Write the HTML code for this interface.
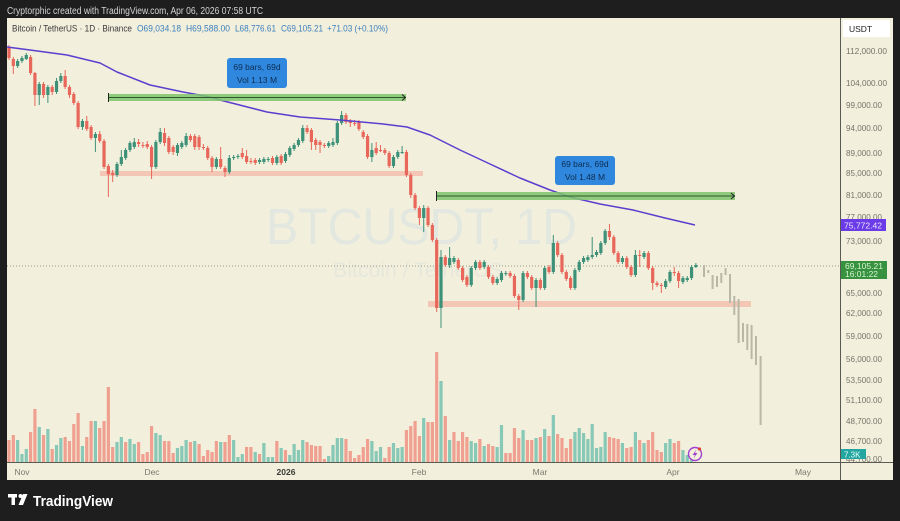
<!DOCTYPE html>
<html>
<head>
<meta charset="utf-8">
<style>
html,body{margin:0;padding:0;background:#1e1e1f;width:900px;height:521px;overflow:hidden}
svg{display:block}
text{font-family:"Liberation Sans",Arial,sans-serif}
</style>
</head>
<body>
<svg id="s" width="900" height="521" viewBox="0 0 900 521" xmlns="http://www.w3.org/2000/svg">
<rect width="900" height="521" fill="#1e1e1f"/>
<text x="7" y="14" font-size="10" fill="#d4d4d4" textLength="256" lengthAdjust="spacingAndGlyphs">Cryptorphic created with TradingView.com, Apr 06, 2026 07:58 UTC</text>
<rect x="7" y="18" width="886" height="462" fill="#f2efdc"/>

<!-- watermark -->
<text x="266" y="244" font-size="51" fill="#e2e7e0" textLength="311" lengthAdjust="spacingAndGlyphs">BTCUSDT, 1D</text>
<text x="333" y="277" font-size="21" fill="#e6e8dc" textLength="170" lengthAdjust="spacingAndGlyphs">Bitcoin / TetherUS</text>

<!-- support bands -->
<rect x="100" y="171" width="323" height="5" fill="#f3b8a8" opacity="0.75"/>
<rect x="428" y="301" width="323" height="6" fill="#f3b8a8" opacity="0.75"/>

<!-- current price dotted line -->
<line x1="7" y1="266" x2="840" y2="266" stroke="#9c9a88" stroke-width="1" stroke-dasharray="1,2"/>

<g id="vol"></g>
<g id="cand"></g>
<g id="proj"></g>

<!-- MA line -->
<polyline fill="none" stroke="#5a3fcf" stroke-width="1.5" stroke-linejoin="round"
 points="7,47 30,50 67,55 100,63 117,72 150,85 183,92 210,97 220,100 267,112 300,117 340,120 383,124 407,127 430,135 460,150 490,164 520,178 550,190 570,197 600,204 633,210 665,218 695,225"/>

<!-- range bars -->
<rect x="108" y="94" width="298" height="7" fill="#7fc46c" opacity="0.85"/>
<line x1="108" y1="97.5" x2="405" y2="97.5" stroke="#2c5a2c" stroke-width="1"/>
<line x1="108.5" y1="93" x2="108.5" y2="102" stroke="#222" stroke-width="1"/>
<polyline points="402,94.5 405.5,97.5 402,100.5" fill="none" stroke="#222" stroke-width="1"/>
<rect x="436" y="192" width="299" height="8" fill="#7fc46c" opacity="0.85"/>
<line x1="436" y1="196" x2="734" y2="196" stroke="#2c5a2c" stroke-width="1"/>
<line x1="436.5" y1="191" x2="436.5" y2="201" stroke="#222" stroke-width="1"/>
<polyline points="731,193 734.5,196 731,199" fill="none" stroke="#222" stroke-width="1"/>

<!-- label boxes -->
<rect x="227" y="58" width="60" height="30" rx="3" fill="#2f88de"/>
<text x="257" y="70" font-size="8.5" fill="#0d2c50" text-anchor="middle">69 bars, 69d</text>
<text x="257" y="83" font-size="8.5" fill="#0d2c50" text-anchor="middle">Vol 1.13 M</text>
<rect x="555" y="156" width="60" height="29" rx="3" fill="#2f88de"/>
<text x="585" y="167" font-size="8.5" fill="#0d2c50" text-anchor="middle">69 bars, 69d</text>
<text x="585" y="180" font-size="8.5" fill="#0d2c50" text-anchor="middle">Vol 1.48 M</text>

<!-- lightning icon -->
<circle cx="695" cy="454" r="6.5" fill="#f2efdc" stroke="#a23fd2" stroke-width="1.4"/>
<path d="M696.5,449.5 L692.5,455 L695,455 L693.5,458.5 L697.5,453 L695,453 Z" fill="#a23fd2"/>
<circle cx="699.5" cy="449" r="1.6" fill="#e0403a"/>

<!-- header -->
<text y="31.5" font-size="9.5">
<tspan x="12" fill="#3a3a3a" textLength="120" lengthAdjust="spacingAndGlyphs">Bitcoin / TetherUS · 1D · Binance</tspan>
</text>
<text y="31.5" font-size="9.5" fill="#3b7fbd">
<tspan x="137" textLength="44" lengthAdjust="spacingAndGlyphs">O69,034.18</tspan>
</text>
<text y="31.5" font-size="9.5" fill="#3b7fbd"><tspan x="186" textLength="44" lengthAdjust="spacingAndGlyphs">H69,588.00</tspan></text>
<text y="31.5" font-size="9.5" fill="#3b7fbd"><tspan x="235" textLength="41" lengthAdjust="spacingAndGlyphs">L68,776.61</tspan></text>
<text y="31.5" font-size="9.5" fill="#3b7fbd"><tspan x="281" textLength="42" lengthAdjust="spacingAndGlyphs">C69,105.21</tspan></text>
<text y="31.5" font-size="9.5" fill="#3b7fbd"><tspan x="327" textLength="61" lengthAdjust="spacingAndGlyphs">+71.03 (+0.10%)</tspan></text>

<!-- axes separators -->
<line x1="840.5" y1="18" x2="840.5" y2="480" stroke="#5a5a55" stroke-width="1"/>
<line x1="7" y1="462.5" x2="893" y2="462.5" stroke="#5a5a55" stroke-width="1"/>

<!-- price axis -->
<rect x="843" y="20" width="47" height="17" fill="#ffffff"/>
<text x="849" y="32" font-size="8.5" fill="#222">USDT</text>
<g font-size="8.3" fill="#75746a">
<text x="846" y="54" textLength="41" lengthAdjust="spacingAndGlyphs">112,000.00</text>
<text x="846" y="86" textLength="41" lengthAdjust="spacingAndGlyphs">104,000.00</text>
<text x="846" y="108" textLength="36" lengthAdjust="spacingAndGlyphs">99,000.00</text>
<text x="846" y="131" textLength="36" lengthAdjust="spacingAndGlyphs">94,000.00</text>
<text x="846" y="156" textLength="36" lengthAdjust="spacingAndGlyphs">89,000.00</text>
<text x="846" y="176" textLength="36" lengthAdjust="spacingAndGlyphs">85,000.00</text>
<text x="846" y="198" textLength="36" lengthAdjust="spacingAndGlyphs">81,000.00</text>
<text x="846" y="220" textLength="36" lengthAdjust="spacingAndGlyphs">77,000.00</text>
<text x="846" y="244" textLength="36" lengthAdjust="spacingAndGlyphs">73,000.00</text>
<text x="846" y="296" textLength="36" lengthAdjust="spacingAndGlyphs">65,000.00</text>
<text x="846" y="316" textLength="36" lengthAdjust="spacingAndGlyphs">62,000.00</text>
<text x="846" y="339" textLength="36" lengthAdjust="spacingAndGlyphs">59,000.00</text>
<text x="846" y="362" textLength="36" lengthAdjust="spacingAndGlyphs">56,000.00</text>
<text x="846" y="383" textLength="36" lengthAdjust="spacingAndGlyphs">53,500.00</text>
<text x="846" y="403" textLength="36" lengthAdjust="spacingAndGlyphs">51,100.00</text>
<text x="846" y="424" textLength="36" lengthAdjust="spacingAndGlyphs">48,700.00</text>
<text x="846" y="444" textLength="36" lengthAdjust="spacingAndGlyphs">46,700.00</text>
<text x="846" y="462" textLength="36" lengthAdjust="spacingAndGlyphs">44,700.00</text>
</g>
<rect x="841" y="219" width="45" height="12" fill="#6a3be6"/>
<text x="844" y="228.5" font-size="8.3" fill="#ece6ff" textLength="38" lengthAdjust="spacingAndGlyphs">75,772.42</text>
<rect x="841" y="261" width="46" height="18" fill="#37923f"/>
<text x="845" y="269" font-size="8" fill="#d8f3d0" textLength="38" lengthAdjust="spacingAndGlyphs">69,105.21</text>
<text x="845" y="277" font-size="8" fill="#d8f3d0" textLength="33" lengthAdjust="spacingAndGlyphs">16:01:22</text>
<rect x="841" y="449" width="25" height="10" fill="#23a5a0"/>
<text x="844" y="457.5" font-size="8" fill="#e8fffb">7.3K</text>

<!-- time axis -->
<g font-size="8.5" fill="#7a796e" text-anchor="middle">
<text x="22" y="475">Nov</text>
<text x="152" y="475">Dec</text>
<text x="286" y="475" font-weight="bold" fill="#3a3a35">2026</text>
<text x="419" y="475">Feb</text>
<text x="540" y="475">Mar</text>
<text x="673" y="475">Apr</text>
<text x="803" y="475">May</text>
</g>

<!-- TradingView logo -->
<g fill="#ffffff">
<rect x="8" y="494" width="9" height="3.5"/>
<rect x="11.5" y="494" width="3.5" height="11"/>
<circle cx="20.5" cy="496" r="2"/>
<polygon points="23,494 27.5,494 23,505 18.5,505"/>
</g>
<text x="33" y="506" font-size="15" font-weight="bold" fill="#ffffff" textLength="80" lengthAdjust="spacingAndGlyphs">TradingView</text>
</svg>

<script>
(function(){
var NS="http://www.w3.org/2000/svg";
function el(p,t,a){var e=document.createElementNS(NS,t);for(var k in a)e.setAttribute(k,a[k]);p.appendChild(e);return e;}
function X(i){return 9+i*4.32;}
var C=[
['r',48,58,45,60],['r',59,66,57,74],['g',61,66,59,68],['g',58,61,56,63],['g',55,59,53,60],
['r',57,73,55,75],['r',73,95,72,106],['g',84,95,82,105],['r',84,95,82,98],['g',87,95,85,103],
['r',87,92,85,95],['g',81,92,78,94],['g',76,81,73,83],['r',76,87,70,89],['r',87,95,85,98],
['r',94,103,92,105],['r',103,127,101,129],['g',121,127,119,130],['r',121,129,116,131],['r',127,138,125,140],
['g',134,138,132,152],['r',134,141,131,143],['r',141,167,139,169],['r',166,174,164,197],['r',173,175,170,182],
['g',164,175,162,177],['g',157,164,150,166],['g',150,158,148,160],['g',143,150,141,152],['g',142,147,138,149],
['r',142,144,139,147],['r',145,146,142,148],['r',144,147,141,149],['r',147,167,145,179],['g',142,167,140,169],
['g',132,142,128,144],['r',133,143,128,146],['r',138,152,136,154],['r',147,152,145,155],['g',145,153,143,156],
['g',143,147,141,149],['g',136,145,133,147],['r',136,140,134,142],['r',136,147,134,150],['r',137,147,135,150],
['r',147,148,144,150],['r',148,158,146,160],['r',158,167,156,172],['g',159,167,157,169],['r',159,167,147,169],
['r',168,172,166,177],['g',158,172,155,174],['g',157,158,155,160],['g',156,157,154,159],['r',153,157,148,159],
['r',156,162,150,164],['r',161,162,158,164],['r',160,163,158,165],['g',160,162,158,164],['g',159,162,157,164],
['g',159,160,157,162],['r',158,163,156,165],['g',157,163,155,165],['r',156,163,154,165],['g',154,161,152,163],
['g',148,155,146,157],['g',145,149,143,151],['g',140,145,138,147],['g',128,141,125,143],['r',128,132,125,134],
['r',130,142,128,150],['r',140,145,138,150],['r',142,145,140,153],['r',145,146,143,148],['g',143,146,141,148],
['g',142,145,138,147],['g',123,143,121,145],['g',115,123,111,125],['r',115,122,113,124],['r',121,123,119,127],
['r',123,124,120,126],['r',122,129,120,131],['r',132,137,130,139],['r',136,157,134,159],['g',150,157,143,162],
['r',148,153,142,155],['r',150,151,145,152],['r',150,153,148,155],['r',153,166,151,168],['g',157,166,155,168],
['g',152,157,150,159],['g',152,153,146,154],['r',152,175,150,177],['r',175,195,173,198],['r',195,208,193,210],
['r',208,218,206,225],['g',208,218,205,232],['r',208,225,206,227],['r',225,240,223,242],['r',240,308,238,312],
['g',257,308,250,328],['r',257,265,255,267],['g',258,265,247,268],['g',258,262,256,264],['r',260,268,258,270],
['r',268,280,266,282],['r',277,285,275,287],['g',268,285,266,287],['g',262,268,260,270],['r',262,268,260,270],
['g',262,267,260,269],['r',267,277,265,279],['r',277,283,275,285],['g',279,283,277,285],['g',273,280,271,282],
['g',273,274,271,276],['r',273,276,271,278],['r',276,296,274,298],['r',296,300,294,310],['g',273,300,271,302],
['r',273,277,271,279],['r',277,288,275,290],['g',280,288,278,307],['r',280,288,278,290],['g',268,288,266,290],
['r',267,272,265,274],['g',243,272,235,274],['r',243,255,241,257],['r',255,272,253,274],['r',272,279,270,281],
['r',278,288,276,290],['g',270,288,268,290],['g',262,270,260,272],['g',258,262,256,264],['g',257,260,255,262],
['g',255,257,237,259],['g',252,255,250,257],['g',243,253,241,255],['g',231,243,229,245],['r',231,237,224,240],
['r',237,253,235,255],['r',253,262,251,264],['g',258,262,256,264],['r',258,267,256,269],['r',267,275,265,277],
['g',255,275,250,277],['r',255,256,250,267],['g',253,257,251,259],['r',253,268,251,270],['r',268,283,266,290],
['r',283,285,281,287],['r',285,286,283,293],['g',281,287,279,289],['g',272,281,270,283],['r',272,273,267,276],
['r',273,281,271,288],['g',278,282,276,284],['g',278,280,276,282],['g',267,278,265,280],['g',265,267,263,268]
];
var cg=document.getElementById('cand');
for(var i=0;i<C.length;i++){
 var c=C[i],x=X(i),col=c[0]=='r'?'#e8675a':'#3e9179';
 el(cg,'rect',{x:(x-0.5).toFixed(2),y:c[3],width:1,height:c[4]-c[3],fill:col});
 var h=Math.max(1,c[2]-c[1]);
 el(cg,'rect',{x:(x-1.6).toFixed(2),y:c[1],width:3.2,height:h,fill:col});
}
var V="r440 r435 g440 g454 g449 r432 r409 g427 r435 g429 r449 g445 g438 r437 r441 r424 r413 g446 r437 r421 g421 r428 r421 r387 r447 g442 g437 r442 g439 g444 r442 r454 r452 r426 g433 g435 r441 r441 r453 g448 g446 g440 r442 g441 r444 r456 r450 r452 r441 g442 r442 r435 g440 g457 g454 r447 r447 g452 r454 g443 g457 g457 r441 g448 r450 g455 g444 g450 g440 r442 r445 r446 r446 r459 g456 g445 g438 g438 r439 r451 r458 r455 r447 r439 g441 g451 g447 r458 r447 g443 g448 g447 r430 r426 r421 r436 g418 r422 r422 "+
"r352 g381 r416 g440 r432 r441 r432 r437 g441 g443 r439 g446 r444 r446 g447 g425 r453 r453 r428 r438 g430 r440 r440 g438 r437 g429 r436 g415 r434 r438 r448 r439 g432 g428 g433 g439 g424 g448 g447 g432 r437 r438 r439 g443 r448 r447 g432 r440 g443 r440 r432 r450 r452 g443 g439 r443 r441 g450 g455 g456";
var vg=document.getElementById('vol');
var vv=V.split(' ');
for(var j=0;j<vv.length;j++){
 var s=vv[j];if(!s)continue;
 var col=s[0]=='r'?'#f0a090':'#88c8b6';
 var t=parseInt(s.substr(1),10);
 el(vg,'rect',{x:(X(j)-1.6).toFixed(2),y:t,width:3.2,height:462-t,fill:col});
}
var P=[[704,265,277],[708.3,270,273],[712.6,275,289],[717,276,287],[721.3,273,283],[725.6,268,275],[730,274,303],[734.3,296,315],[738.6,299,343],[743,323,342],[747.3,324,350],[751.6,325,359],[756,336,365],[760.6,356,425]];
var pg=document.getElementById('proj');
for(var k=0;k<P.length;k++){
 el(pg,'rect',{x:P[k][0]-1,y:P[k][1],width:2,height:P[k][2]-P[k][1],fill:'#b9b8a6'});
}
})();
</script>
</body>
</html>
